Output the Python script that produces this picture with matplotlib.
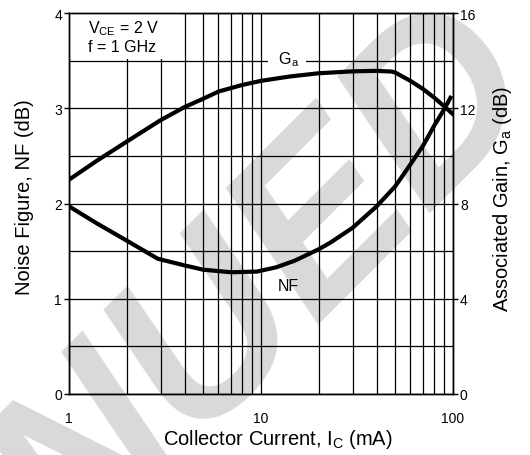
import matplotlib
matplotlib.use("Agg")
import matplotlib.pyplot as plt
from matplotlib.patches import Rectangle
from matplotlib.ticker import NullFormatter, FixedLocator

plt.rcParams["font.family"] = ["Liberation Sans", "DejaVu Sans"]
plt.rcParams["mathtext.fontset"] = "custom"
plt.rcParams["mathtext.rm"] = "Liberation Sans"

# noise figure vs collector current (left axis, dB)
IC_NF = [1, 1.4, 2, 2.9, 4, 5, 7, 9.5, 12, 15, 20, 23, 30, 40, 50, 60, 70, 80, 90, 97]
NF = [1.97, 1.79, 1.61, 1.42, 1.35, 1.305, 1.278, 1.285, 1.33, 1.40, 1.52, 1.59,
      1.745, 1.97, 2.18, 2.41, 2.61, 2.82, 2.99, 3.11]
# associated gain vs collector current (right axis, dB)
IC_GA = [1, 1.4, 2, 3, 4, 5, 6, 8, 10, 14, 20, 30, 40, 48, 50, 60, 70, 80, 90, 100]
GA = [9.0, 9.8, 10.6, 11.5, 12.05, 12.4, 12.7, 12.98, 13.15, 13.33, 13.47, 13.55,
      13.57, 13.54, 13.5, 13.15, 12.8, 12.44, 12.08, 11.75]

NF_TICKS = [0, 1, 2, 3, 4]
GA_TICKS = [0, 4, 8, 12, 16]
X_TICKS = [1, 10, 100]
X_MINOR = [2, 3, 4, 5, 6, 7, 8, 9, 20, 30, 40, 50, 60, 70, 80, 90]

W, H = 530, 456
fig = plt.figure(figsize=(W / 100, H / 100), dpi=100)
ax = fig.add_axes([69 / W, 61 / H, 384 / W, 381 / H])
ax2 = ax.twinx()
ax.patch.set_visible(False)
ax2.patch.set_visible(False)

# watermark behind everything
fig.text(1.033, 0.798, "DISCONTINUED", rotation=45, rotation_mode="anchor",
         ha="right", va="baseline", fontsize=170, fontweight="bold",
         fontstyle="italic", color="#d9d9d9", zorder=-1)

ax.set_xscale("log")
ax.set_xlim(1, 100)
ax.set_ylim(0, 4)
ax2.set_ylim(0, 16)

ax.set_xticks(X_TICKS)
ax.set_xticklabels([str(v) for v in X_TICKS])
ax.xaxis.set_minor_locator(FixedLocator(X_MINOR))
ax.xaxis.set_minor_formatter(NullFormatter())
ax.set_yticks(NF_TICKS)
ax.set_yticks([0.5, 1.5, 2.5, 3.5], minor=True)
ax2.set_yticks(GA_TICKS)

ax.set_axisbelow(True)
ax.grid(True, which="both", color="k", lw=0.9)
ax.tick_params(axis="x", which="both", length=0, pad=12, labelsize=10)
ax.tick_params(axis="y", which="major", direction="out", length=3.5, width=1,
               pad=1.5, labelsize=10)
ax.tick_params(axis="y", which="minor", length=0)
ax2.tick_params(axis="y", direction="out", length=3.5, width=1, pad=1.5,
                labelsize=10)
for a in (ax, ax2):
    for s in a.spines.values():
        s.set_linewidth(1.0)

# blank cell for the conditions text
ax.add_patch(Rectangle((1, 3.52), 2.8, 0.48, facecolor="white",
                       edgecolor="none", zorder=1))
ax.text(1.25, 3.797, r"V$_\mathregular{CE}$ = 2 V", fontsize=11.5, va="baseline")
ax.text(1.25, 3.605, "f = 1 GHz", fontsize=11.5, va="baseline")

ax.plot(IC_NF, NF, color="k", lw=3)
ax2.plot(IC_GA, GA, color="k", lw=3)

ax.text(13.9, 1.092, "NF", fontsize=11.5, ha="center", va="baseline")
# Ga label sits on the 3.5 dB grid line with a white gap around it
ax.text(13.7, 3.475, r"  G$_\mathregular{a}$  ", fontsize=11.5, ha="center",
        va="baseline", zorder=3,
        bbox=dict(boxstyle="square,pad=0.1", fc="white", ec="none"))

fig.text(25 / W, 1 - 197 / H, "Noise Figure, NF (dB)", rotation=90,
         ha="center", va="center", fontsize=14.5)
fig.text(502 / W, 1 - 199 / H, r"Associated Gain, G$_\mathregular{a}$ (dB)",
         rotation=90, ha="center", va="center", fontsize=14.5)
fig.text(278 / W, 1 - 440 / H, r"Collector Current, I$_\mathregular{C}$ (mA)",
         ha="center", va="center", fontsize=14.5)

fig.savefig("out.png", dpi=100)
